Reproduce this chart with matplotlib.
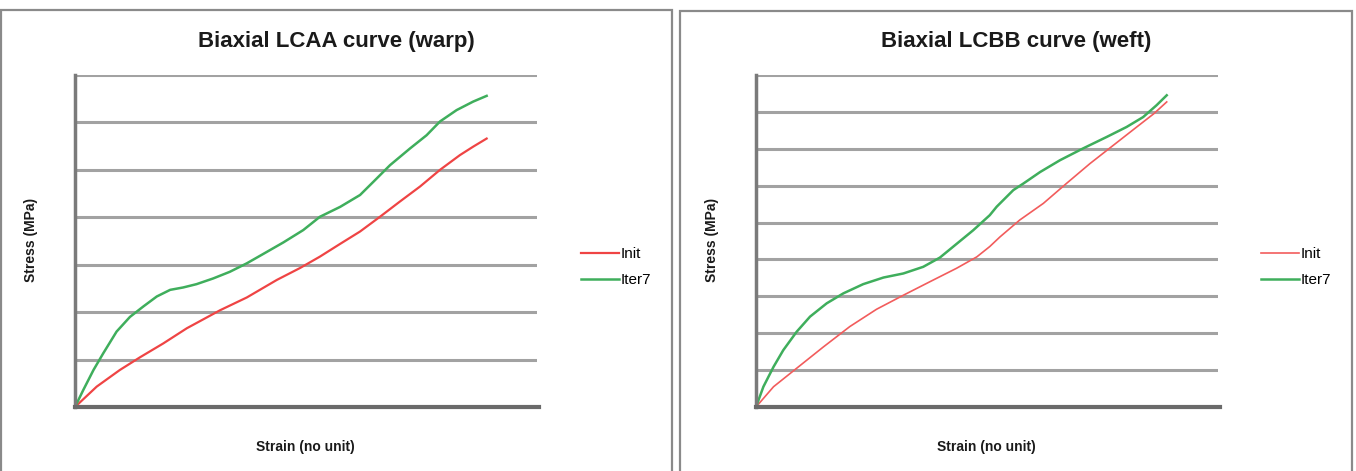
import matplotlib
matplotlib.use("Agg")
import matplotlib.pyplot as plt
from matplotlib.patches import Rectangle

# ── data (arbitrary units) ──────────────────────────────────────────────────
warp_green_x = [0, 0.18, 0.40, 0.61, 0.90, 1.19, 1.48, 1.77, 2.06, 2.34, 2.63, 2.99, 3.35, 3.72,
                4.08, 4.51, 4.94, 5.30, 5.74, 6.17, 6.46, 6.82, 7.25, 7.61, 7.90, 8.26, 8.62, 8.91]
warp_green_y = [0, 0.36, 0.78, 1.13, 1.59, 1.90, 2.12, 2.33, 2.47, 2.52, 2.59, 2.71, 2.85, 3.03,
                3.23, 3.47, 3.73, 4.01, 4.22, 4.47, 4.75, 5.10, 5.45, 5.73, 6.02, 6.26, 6.44, 6.56]
warp_red_x = [0, 0.47, 0.97, 1.41, 1.91, 2.42, 3.14, 3.72, 4.37, 4.87, 5.30, 5.74, 6.17, 6.60,
              7.03, 7.47, 7.90, 8.33, 8.62, 8.91]
warp_red_y = [0, 0.43, 0.78, 1.05, 1.34, 1.66, 2.04, 2.31, 2.68, 2.93, 3.17, 3.44, 3.70, 4.01,
              4.33, 4.65, 5.00, 5.31, 5.49, 5.66]

weft_green_x = [0, 0.16, 0.38, 0.59, 0.88, 1.17, 1.53, 1.89, 2.32, 2.76, 3.19, 3.62, 3.98, 4.34,
                4.70, 5.06, 5.21, 5.57, 5.79, 6.15, 6.58, 7.08, 7.59, 8.02, 8.38, 8.67, 8.89]
weft_green_y = [0, 0.55, 1.09, 1.54, 2.04, 2.45, 2.81, 3.08, 3.33, 3.51, 3.62, 3.80, 4.05, 4.42,
                4.79, 5.20, 5.43, 5.88, 6.06, 6.37, 6.69, 7.01, 7.32, 7.59, 7.86, 8.18, 8.45]
weft_red_x = [0, 0.38, 0.88, 1.46, 2.03, 2.61, 3.19, 3.77, 4.34, 4.78, 5.06, 5.28, 5.71, 6.22,
              6.72, 7.23, 7.74, 8.24, 8.61, 8.89]
weft_red_y = [0, 0.55, 1.05, 1.63, 2.18, 2.65, 3.03, 3.40, 3.76, 4.07, 4.35, 4.61, 5.07, 5.52,
              6.06, 6.60, 7.10, 7.59, 7.95, 8.27]

titles = ["Biaxial LCAA curve (warp)", "Biaxial LCBB curve (weft)"]
n_grid = [7, 9]

W, H = 1356, 471
RED, RED_LIGHT, GREEN = "#ef4444", "#f25c5c", "#3fae5c"
GRID, INK = "#a2a2a2", "#1a1a1a"
FONT = "Liberation Sans"


def fx(px):
    return px / W


def fy(py):
    return 1 - py / H


fig = plt.figure(figsize=(W / 100, H / 100), dpi=100)
fig.patch.set_facecolor("white")

# panel frames (bottom edge runs off the picture)
for x0, x1, y0 in [(1, 672, 10), (680, 1352, 11)]:
    fig.patches.append(Rectangle((fx(x0), fy(H + 5)), fx(x1 - x0), (H + 5 - y0) / H,
                                 transform=fig.transFigure, fill=False,
                                 edgecolor="#8a8a8a", linewidth=1.6))

# left px of axes, title x, ylabel x, xlabel x, legend x, data, Init colour/width
panels = [
    (75, 336, 31, 305, 573, warp_red_x, warp_red_y, warp_green_x, warp_green_y, RED, 1.6),
    (756, 1016, 712, 986, 1253, weft_red_x, weft_red_y, weft_green_x, weft_green_y, RED_LIGHT, 1.2),
]

for i, (left, tx, ylx, xlx, legx, rx, ry, gx, gy, rc, red_lw) in enumerate(panels):
    ax = fig.add_axes([fx(left), fy(407), fx(462), 332 / H])
    ax.plot(rx, ry, color=rc, linewidth=red_lw, label="Init")
    ax.plot(gx, gy, color=GREEN, linewidth=1.8, label="Iter7")
    ax.set_xlim(0, 10)
    ax.set_ylim(0, n_grid[i])
    ax.set_yticks(range(n_grid[i] + 1))
    ax.set_xticks([])
    ax.tick_params(left=False, labelleft=False)
    ax.grid(axis="y", color=GRID, linewidth=2.2)
    ax.set_axisbelow(True)
    for s in ("top", "right"):
        ax.spines[s].set_visible(False)
    ax.spines["left"].set_color("#7a7a7a")
    ax.spines["left"].set_linewidth(2.5)
    ax.spines["bottom"].set_color("#6a6a6a")
    ax.spines["bottom"].set_linewidth(3)
    ax.spines["bottom"].set_bounds(0, 10.05)

    fig.text(fx(tx), fy(42), titles[i], ha="center", va="center", fontsize=16,
             fontweight="bold", family=FONT, color=INK)
    fig.text(fx(ylx), fy(240), "Stress (MPa)", ha="center", va="center", rotation=90,
             fontsize=10, fontweight="bold", family=FONT, color=INK)
    fig.text(fx(xlx), fy(447), "Strain (no unit)", ha="center", va="center",
             fontsize=10, fontweight="bold", family=FONT, color=INK)
    fig.legend(handles=ax.get_lines(), loc="center left",
               bbox_to_anchor=(fx(legx), fy(267)), frameon=False, borderpad=0,
               handlelength=2.5, handletextpad=0.1, labelspacing=0.8,
               prop={"family": FONT, "size": 11})

fig.savefig("out.png", dpi=100, facecolor="white")
